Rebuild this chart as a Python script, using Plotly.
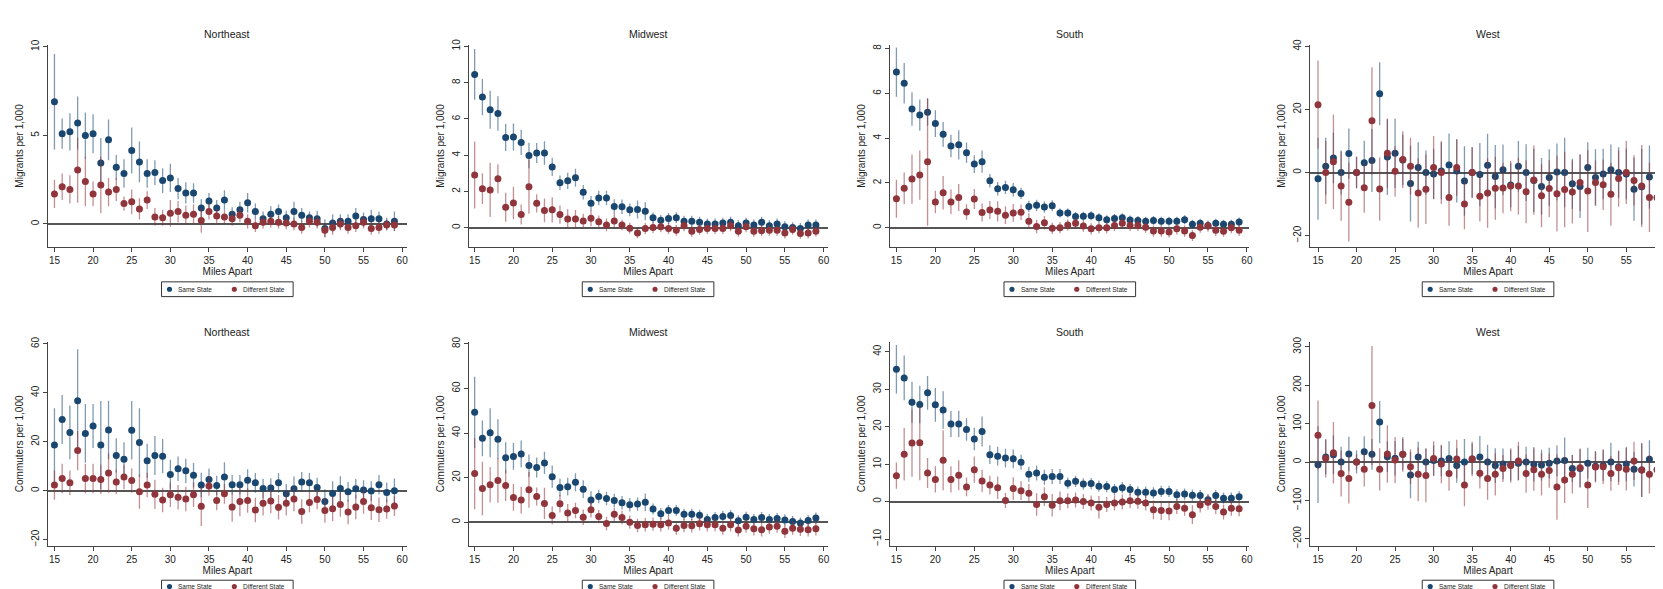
import plotly.graph_objects as go

# ---------------- data ----------------
MILES = list(range(15, 60))
X_TICKS = [15, 20, 25, 30, 35, 40, 45, 50, 55, 60]
REGIONS = ["Northeast", "Midwest", "South", "West"]
Y_LABELS = ["Migrants per 1,000", "Commuters per 1,000"]
SERIES = ["Same State", "Different State"]

# Migrants - Northeast
NE_MIG_SAME = [6.9, 5.1, 5.2, 5.7, 5.0, 5.1, 3.45, 4.75, 3.2, 2.85,
               4.15, 3.5, 2.85, 2.9, 2.45, 2.6, 2.0, 1.75, 1.75, 0.9,
               1.3, 0.9, 1.35, 0.55, 0.8, 1.2, 0.7, 0.3, 0.55, 0.7,
               0.35, 0.7, 0.5, 0.35, 0.3, -0.25, 0.05, 0.15, 0.15, 0.45,
               0.25, 0.3, 0.3, 0.0, 0.15]
NE_MIG_SAME_CI = [2.7, 0.85, 1.05, 1.5, 1.3, 1.1, 1.4, 1.15, 0.7, 0.8,
                  1.3, 1.15, 0.8, 0.7, 0.7, 0.8, 0.6, 0.6, 0.55, 0.5,
                  0.45, 0.45, 0.55, 0.4, 0.45, 0.55, 0.45, 0.4, 0.45, 0.4,
                  0.4, 0.55, 0.4, 0.35, 0.45, 0.5, 0.5, 0.4, 0.4, 0.45,
                  0.4, 0.5, 0.4, 0.35, 0.55]
NE_MIG_DIFF = [1.7, 2.1, 1.95, 3.05, 2.4, 1.7, 2.2, 1.8, 1.95, 1.15,
               1.25, 0.85, 1.35, 0.4, 0.35, 0.6, 0.7, 0.5, 0.55, 0.2,
               0.7, 0.45, 0.4, 0.3, 0.5, 0.15, -0.1, 0.1, 0.15, 0.1,
               0.05, 0.0, -0.2, 0.15, 0.1, -0.35, -0.2, 0.0, -0.2, -0.1,
               0.1, -0.25, -0.2, -0.05, -0.05]
NE_MIG_DIFF_CI = [0.8, 0.75, 0.8, 1.85, 1.4, 0.7, 1.6, 0.8, 0.65, 0.4,
                  0.7, 0.6, 0.5, 0.5, 0.45, 0.75, 0.6, 0.55, 0.55, 0.7,
                  0.45, 0.4, 0.4, 0.4, 0.4, 0.4, 0.35, 0.35, 0.35, 0.35,
                  0.35, 0.35, 0.35, 0.35, 0.35, 0.4, 0.4, 0.35, 0.35, 0.35,
                  0.35, 0.35, 0.35, 0.3, 0.35]

# Migrants - Midwest
MW_MIG_SAME = [8.45, 7.2, 6.5, 6.3, 4.97, 5.0, 4.7, 3.98, 4.12, 4.12,
               3.35, 2.47, 2.58, 2.75, 1.95, 1.35, 1.63, 1.63, 1.16, 1.15,
               0.98, 1.0, 0.9, 0.54, 0.4, 0.5, 0.55, 0.35, 0.35, 0.3,
               0.2, 0.2, 0.25, 0.3, 0.1, 0.25, 0.15, 0.3, 0.1, 0.2,
               0.05, 0.0, -0.05, 0.15, 0.15]
MW_MIG_SAME_CI = [1.4, 1.0, 1.05, 0.95, 0.75, 0.75, 0.7, 0.7, 0.55, 0.65,
                  0.5, 0.4, 0.45, 0.5, 0.4, 0.4, 0.4, 0.4, 0.4, 0.4,
                  0.35, 0.5, 0.5, 0.3, 0.3, 0.3, 0.3, 0.3, 0.3, 0.3,
                  0.3, 0.3, 0.3, 0.3, 0.3, 0.3, 0.3, 0.3, 0.3, 0.3,
                  0.3, 0.3, 0.3, 0.3, 0.3]
MW_MIG_DIFF = [2.9, 2.15, 2.08, 2.7, 1.12, 1.36, 0.72, 2.26, 1.34, 0.95,
               0.98, 0.72, 0.47, 0.47, 0.36, 0.52, 0.32, 0.15, 0.37, 0.14,
               -0.03, -0.29, -0.05, 0.0, 0.05, -0.05, -0.15, 0.1, -0.2, -0.1,
               -0.05, -0.05, -0.05, 0.1, -0.2, 0.05, -0.2, -0.17, -0.15, -0.15,
               -0.3, -0.1, -0.32, -0.3, -0.2]
MW_MIG_DIFF_CI = [1.85, 0.85, 1.5, 0.8, 0.8, 0.9, 0.55, 1.5, 0.5, 0.65,
                  0.7, 0.5, 0.55, 0.5, 0.4, 0.45, 0.35, 0.35, 0.4, 0.3,
                  0.3, 0.3, 0.3, 0.3, 0.3, 0.3, 0.3, 0.3, 0.3, 0.3,
                  0.3, 0.3, 0.3, 0.3, 0.3, 0.3, 0.3, 0.3, 0.3, 0.3,
                  0.3, 0.3, 0.3, 0.3, 0.3]

# Migrants - South
SO_MIG_SAME = [6.95, 6.45, 5.3, 5.03, 5.15, 4.65, 4.17, 3.65, 3.7, 3.35,
               2.84, 2.95, 2.1, 1.74, 1.8, 1.69, 1.53, 0.95, 1.0, 0.92,
               0.98, 0.66, 0.66, 0.5, 0.51, 0.53, 0.44, 0.35, 0.41, 0.44,
               0.34, 0.32, 0.29, 0.32, 0.29, 0.29, 0.29, 0.35, 0.15, 0.2,
               0.1, 0.2, 0.15, 0.15, 0.25]
SO_MIG_SAME_CI = [1.1, 0.9, 0.75, 0.7, 0.6, 0.6, 0.55, 0.5, 0.65, 0.45,
                  0.4, 0.5, 0.3, 0.3, 0.3, 0.3, 0.25, 0.25, 0.25, 0.25,
                  0.25, 0.2, 0.2, 0.2, 0.2, 0.2, 0.2, 0.2, 0.2, 0.2,
                  0.2, 0.2, 0.2, 0.2, 0.2, 0.2, 0.2, 0.2, 0.2, 0.2,
                  0.2, 0.2, 0.2, 0.2, 0.2]
SO_MIG_DIFF = [1.29, 1.76, 2.17, 2.35, 2.94, 1.15, 1.56, 1.15, 1.35, 0.7,
               1.28, 0.68, 0.79, 0.73, 0.56, 0.66, 0.69, 0.29, 0.05, 0.22,
               -0.03, 0.0, 0.12, 0.2, 0.07, -0.05, 0.0, 0.0, 0.1, 0.2,
               0.1, 0.1, 0.02, -0.15, -0.15, -0.19, -0.05, -0.15, -0.35, 0.02,
               0.07, -0.12, -0.16, 0.0, -0.12]
SO_MIG_DIFF_CI = [0.85, 0.7, 1.1, 1.1, 2.85, 0.5, 0.75, 0.55, 0.6, 0.35,
                  0.45, 0.4, 0.4, 0.45, 0.4, 0.4, 0.35, 0.35, 0.3, 0.3,
                  0.25, 0.25, 0.25, 0.25, 0.25, 0.25, 0.25, 0.25, 0.25, 0.25,
                  0.25, 0.25, 0.25, 0.25, 0.25, 0.25, 0.25, 0.25, 0.25, 0.25,
                  0.25, 0.25, 0.25, 0.25, 0.25]

# Migrants - West
WE_MIG_SAME = [-2, 2, 4.6, 0, 6, 0, 3.1, 3.8, 25, 4.9,
               6.1, 4, -3.5, 1.6, 0, -0.5, 0.5, 2.4, 0.5, -2.7,
               0, -0.6, 2.3, -1.3, 0.9, -4, 2.0, 0, -2.5, -4.4,
               -1.6, 0.2, 0, -3.6, -4.4, 1.6, -1.6, -0.5, 0.9, 0,
               -0.5, -5.3, -4.5, -1.4, -8]
WE_MIG_SAME_CI = [13, 9, 8, 7, 8, 5, 7, 10, 10, 12,
                  11, 8, 12, 8, 7, 8, 9, 10, 10, 11,
                  8, 10, 10, 10, 8, 7, 8, 9, 10, 9,
                  9, 9, 11, 8, 10, 8, 9, 8, 8, 8,
                  8, 10, 12, 10, 9]
WE_MIG_DIFF = [21.5, 0, 3.4, -4.3, -9.4, 0, -4.8, 16.4, -5.2, 6.1,
               0.4, 4.1, 2.0, -6.5, -5.3, 1.6, 0, -7.9, 1.6, -10.0,
               0, -7.5, -6.5, -5.0, -4.9, -4.3, -4.3, -6.1, -2.4, -7.4,
               -5.1, -6.7, -5.4, -6.2, -3.2, -5.9, -3.2, -3.9, -6.9, -1.9,
               0, -2.5, -4.3, -7.9, -7.9]
WE_MIG_DIFF_CI = [14, 10, 15, 11, 12.5, 5, 8, 17, 10, 11,
                  8, 9, 9, 11, 11, 10, 10, 9, 9, 8,
                  8, 8, 11, 10, 8, 8, 9, 10, 11, 10,
                  9, 12, 12, 10, 9, 13, 7, 8, 10, 9,
                  10, 8, 13, 11, 9]

# Commuters - Northeast
NE_COM_SAME = [18.7, 29.1, 23.8, 36.8, 23.4, 26.4, 18.7, 24.8, 14.4, 12.8,
               24.7, 19.7, 12.2, 14.4, 14.1, 6.6, 9.0, 8.1, 6.3, 2.3,
               4.6, 2.1, 5.6, 2.4, 2.4, 4.3, 3.2, 0.9, 1.1, 3.2,
               -1.3, 0.8, 3.6, 3.2, 1.3, -4.4, -1.1, 0.9, -0.4, 0.8,
               0.3, -0.1, 2.4, -0.7, 0]
NE_COM_SAME_CI = [15, 10, 11, 21, 12, 9, 18, 12, 7, 7,
                  12, 14, 7, 8, 7, 6, 5, 5, 5, 5,
                  4.5, 4, 6, 4, 4, 4.5, 4, 4, 4, 4,
                  4, 5, 4, 4, 4, 5, 5, 5, 4, 4,
                  4, 4, 4, 4, 5]
NE_COM_DIFF = [2.3, 5.0, 3.2, 16.4, 5.0, 5.0, 4.6, 7.2, 3.6, 5.6,
               4.2, -0.4, 2.3, -1.5, -3.8, -1.7, -2.7, -3.4, -1.7, -6.4,
               1.9, -4.0, -1.3, -6.7, -4.4, -4.0, -7.9, -5.1, -4.2, -6.8,
               -5.1, -3.4, -8.5, -4.8, -3.6, -8.1, -7.4, -5.6, -8.7, -6.7,
               -4.4, -7.0, -7.8, -7.5, -6.3]
NE_COM_DIFF_CI = [6, 6, 5, 8, 6, 6, 6, 8, 5, 5,
                  5, 7, 5, 6, 5, 5, 5, 5, 5, 8,
                  4, 4, 4, 6, 6, 5, 5, 5, 5, 5,
                  5, 5, 5, 4, 4, 5, 5, 5, 5, 5,
                  5, 5, 5, 4, 4]

# Commuters - Midwest
MW_COM_SAME = [49.3, 37.6, 40.1, 37.2, 28.9, 29.5, 30.6, 25.4, 24.5, 26.6,
               20.4, 15.5, 15.9, 17.9, 14.8, 9.9, 11.5, 10.6, 9.7, 8.7,
               7.8, 8.1, 8.9, 5.9, 3.8, 5.2, 5.2, 3.5, 3.5, 3.1,
               1.2, 2.1, 2.5, 3.0, 0.6, 2.2, 1.2, 2.1, 1.2, 1.6,
               1.0, 0.3, -0.4, 0.7, 1.8]
MW_COM_SAME_CI = [16, 8, 11, 9, 7, 6, 6, 5, 4.5, 5,
                  5, 4, 4, 4, 4, 4, 3, 3, 3, 3,
                  3, 3, 4, 2.5, 2.5, 2.5, 2.5, 2.5, 2.5, 2.5,
                  2.5, 2.5, 2.5, 2.5, 2.5, 2.5, 2.5, 2.5, 2.5, 2.5,
                  2.5, 2.5, 2.5, 2.5, 2.5]
MW_COM_DIFF = [21.8, 15.1, 16.8, 18.7, 16.5, 11.1, 9.9, 14.5, 11.5, 8.4,
               3.0, 8.3, 4.1, 5.2, 2.2, 5.6, 2.5, -0.6, 3.5, 2.1,
               0.0, -1.5, -1.2, -0.9, -1.2, -0.4, -2.7, -1.5, -1.6, -0.7,
               -1.2, -1.2, -2.7, -1.2, -3.5, -1.8, -3.0, -3.4, -2.2, -1.8,
               -4.1, -2.7, -3.2, -3.4, -3.0]
MW_COM_DIFF_CI = [16, 12, 8, 10, 7, 6, 6, 8, 4, 7,
                  4, 4, 4, 3.5, 3.5, 3.5, 3, 3, 3, 3,
                  3, 3, 3, 3, 3, 3, 3, 3, 3, 3,
                  3, 3, 3, 3, 3, 3, 3, 3, 3, 3,
                  3, 3, 3, 3, 3]

# Commuters - South
SO_COM_SAME = [35.3, 33.0, 26.5, 25.9, 29.0, 25.8, 24.4, 20.7, 20.7, 19.2,
               16.7, 18.7, 12.5, 12.1, 11.6, 11.4, 10.5, 7.3, 7.6, 6.5,
               6.7, 6.7, 4.9, 5.4, 4.7, 4.8, 4.1, 4.0, 3.2, 3.7,
               3.2, 2.5, 2.5, 2.3, 2.7, 2.7, 1.8, 2.0, 1.7, 1.6,
               0.5, 1.6, 0.9, 0.9, 1.3]
SO_COM_SAME_CI = [6.5, 6, 5.5, 5, 4.5, 4.5, 5, 3.5, 3.5, 3,
                  3, 4, 2.5, 2.5, 2.5, 2.5, 2, 2, 2, 2,
                  2, 2, 1.5, 1.5, 1.5, 1.5, 1.5, 1.5, 1.5, 1.5,
                  1.5, 1.5, 1.5, 1.5, 1.5, 1.5, 1.5, 1.5, 1.5, 1.5,
                  1.5, 1.5, 1.5, 1.5, 1.5]
SO_COM_DIFF = [6.9, 12.6, 15.6, 15.7, 7.6, 5.9, 11.0, 5.9, 7.0, 3.9,
               8.5, 5.5, 4.4, 3.7, 0.3, 3.5, 2.9, 2.2, -0.8, 1.3,
               -1.0, 0.2, 0.2, 0.4, 0.0, -0.4, -1.5, -0.8, -0.4, -0.1,
               0.2, 0.1, -0.4, -2.2, -2.4, -2.5, -1.3, -1.8, -3.5, -0.9,
               -0.2, -1.3, -2.8, -1.8, -1.9]
SO_COM_DIFF_CI = [3.5, 7, 9, 10, 4, 3.5, 8, 3.5, 4, 2.5,
                  3.5, 3, 2.5, 3, 2, 3, 2.5, 2.5, 3, 2.5,
                  3, 2.5, 2, 2, 2, 2, 3, 2, 2, 2,
                  2, 2, 2, 2.5, 2.5, 2.5, 2, 2, 2.5, 2,
                  2, 2, 2, 2, 2]

# Commuters - West
WE_COM_SAME = [-7, 13, 19, 0, 21, 0, 27, 20, 104, 14,
               10, 20, -34, 13, 0, 4, 3, 9, -9, 0,
               8, 13, 0, -9, -5, -8, -3, 0, -6, -8,
               -3, 3, 4, -17, -17, -3, -11, -9, 0, -12,
               -5, -19, -21, 7, -20]
WE_COM_SAME_CI = [100, 45, 50, 40, 45, 30, 40, 40, 55, 40,
                  45, 40, 60, 40, 35, 40, 40, 45, 45, 60,
                  40, 55, 45, 45, 40, 40, 45, 40, 45, 40,
                  40, 40, 60, 35, 50, 40, 40, 40, 50, 40,
                  45, 45, 70, 50, 45]
WE_COM_DIFF = [70, 10, 24, -30, -43, 0, -19, 147, -19, 21,
               5, 20, -12, -32, -35, 9, -5, -30, 8, -60,
               8, -29, -43, -32, -17, -9, 3, -30, -20, -32,
               -22, -65, -47, -32, -15, -60, -13, -12, -30, -15,
               -19, 3, -21, -32, -20]
WE_COM_DIFF_CI = [90, 50, 80, 60, 65, 20, 45, 155, 55, 75,
                  60, 45, 45, 70, 70, 45, 50, 45, 50, 55,
                  45, 40, 55, 55, 35, 45, 50, 50, 55, 55,
                  45, 85, 60, 50, 50, 60, 40, 45, 45, 45,
                  55, 50, 70, 50, 45]

Y_TICKS = [
    [0, 5, 10], [0, 2, 4, 6, 8, 10], [0, 2, 4, 6, 8], [-20, 0, 20, 40],
    [-20, 0, 20, 40, 60], [0, 20, 40, 60, 80], [-10, 0, 10, 20, 30, 40],
    [-200, -100, 0, 100, 200, 300],
]

PANEL_DATA = [
    (NE_MIG_SAME, NE_MIG_SAME_CI, NE_MIG_DIFF, NE_MIG_DIFF_CI),
    (MW_MIG_SAME, MW_MIG_SAME_CI, MW_MIG_DIFF, MW_MIG_DIFF_CI),
    (SO_MIG_SAME, SO_MIG_SAME_CI, SO_MIG_DIFF, SO_MIG_DIFF_CI),
    (WE_MIG_SAME, WE_MIG_SAME_CI, WE_MIG_DIFF, WE_MIG_DIFF_CI),
    (NE_COM_SAME, NE_COM_SAME_CI, NE_COM_DIFF, NE_COM_DIFF_CI),
    (MW_COM_SAME, MW_COM_SAME_CI, MW_COM_DIFF, MW_COM_DIFF_CI),
    (SO_COM_SAME, SO_COM_SAME_CI, SO_COM_DIFF, SO_COM_DIFF_CI),
    (WE_COM_SAME, WE_COM_SAME_CI, WE_COM_DIFF, WE_COM_DIFF_CI),
]

# ---------------- layout geometry / style ----------------
W, H = 1663, 589
COL_PX = [(40, 400), (462, 822), (885, 1245), (1306, 1663)]
ROW_PX = [(31, 237), (333, 540)]
TITLE_Y_PX = [20, 323]
LEGEND_BOX_PX = [(272, 287), (575, 588)]   # top/bottom of legend box per row
LEGEND_HALF_W = 66
LEGEND_ITEM_DX = [(-58, -51), (7, 14)]     # (dot centre, text start) offsets
X_RANGES = [[14.15, 60.6], [14.22, 60.5], [14.22, 60.3], [13.97, 60.15]]
Y_RANGES = [[-1.32, 10.13], [-1.09, 10.1], [-0.88, 8.18], [-23.75, 40.6],
            [-22.5, 60.8], [-10.6, 80.9], [-11.8, 42.6], [-218, 312.8]]

NAVY = "#1a476f"
MAROON = "#90353b"
NAVY_BAR = "rgba(26,71,111,0.55)"
MAROON_BAR = "rgba(144,53,59,0.55)"
TXT = "#222222"
FONT = "Arial, Liberation Sans, sans-serif"
SERIES_COLORS = [(NAVY, NAVY_BAR), (MAROON, MAROON_BAR)]


def px_x(v):
    return v / W


def px_y(v):
    return 1 - v / H


fig = go.Figure()
layout = dict(
    width=W, height=H, autosize=False,
    margin=dict(l=0, r=0, t=0, b=0),
    paper_bgcolor="white", plot_bgcolor="white",
    font=dict(family=FONT, color=TXT, size=10),
    showlegend=False,
    annotations=[], shapes=[],
)

for i, (same, same_ci, diff, diff_ci) in enumerate(PANEL_DATA):
    r, c = divmod(i, 4)
    n = "" if i == 0 else str(i + 1)
    x0, x1 = COL_PX[c]
    y0, y1 = ROW_PX[r]
    for (name, vals, ci), (col, bar) in zip(
        ((SERIES[0], same, same_ci), (SERIES[1], diff, diff_ci)), SERIES_COLORS
    ):
        fig.add_trace(go.Scatter(
            x=MILES, y=vals, mode="markers", name=name,
            marker=dict(color=col, size=7),
            error_y=dict(type="data", array=ci, color=bar, thickness=1.3, width=0),
            xaxis="x" + n, yaxis="y" + n,
        ))
    layout["xaxis" + n] = dict(
        domain=[px_x(x0), px_x(x1)], range=X_RANGES[c], anchor="y" + n,
        tickvals=X_TICKS, ticks="outside", ticklen=4, tickcolor="#444",
        showline=True, linecolor="#444", linewidth=1,
        showgrid=False, zeroline=False, ticklabeloverflow="allow",
        tickfont=dict(size=10, color=TXT),
        title=dict(text="Miles Apart", font=dict(size=10, color=TXT), standoff=0),
    )
    layout["yaxis" + n] = dict(
        domain=[px_y(y1), px_y(y0)], range=Y_RANGES[i], anchor="x" + n,
        tickvals=Y_TICKS[i], tickangle=-90, ticks="outside", ticklen=4,
        tickcolor="#444", showline=True, linecolor="#444", linewidth=1,
        showgrid=False, zeroline=True, zerolinecolor="#555", zerolinewidth=1.5,
        tickfont=dict(size=10, color=TXT),
        title=dict(text=Y_LABELS[r], font=dict(size=10, color=TXT), standoff=4),
    )
    cx = (x0 + x1) / 2
    layout["annotations"].append(dict(
        text=REGIONS[c], x=px_x(cx), y=px_y(TITLE_Y_PX[r]),
        xref="paper", yref="paper", xanchor="center", yanchor="middle",
        showarrow=False, font=dict(size=10.5, color=TXT),
    ))
    # legend box (drawn like the original per-panel Stata legend)
    lt, lb = LEGEND_BOX_PX[r]
    layout["shapes"].append(dict(
        type="rect", xref="paper", yref="paper",
        x0=px_x(cx - LEGEND_HALF_W), x1=px_x(cx + LEGEND_HALF_W),
        y0=px_y(lb), y1=px_y(lt),
        line=dict(color="#333", width=1), fillcolor="white", layer="above",
    ))
    ly = (lt + lb) / 2
    for (dot_dx, text_dx), name, (col, _) in zip(LEGEND_ITEM_DX, SERIES, SERIES_COLORS):
        layout["shapes"].append(dict(
            type="circle", xref="paper", yref="paper",
            x0=px_x(cx + dot_dx - 2.6), x1=px_x(cx + dot_dx + 2.6),
            y0=px_y(ly + 2.6), y1=px_y(ly - 2.6),
            fillcolor=col, line=dict(color=col, width=0), layer="above",
        ))
        layout["annotations"].append(dict(
            text=name, x=px_x(cx + text_dx), y=px_y(ly),
            xref="paper", yref="paper", xanchor="left", yanchor="middle",
            showarrow=False, font=dict(size=6.5, color=TXT),
        ))

fig.update_layout(**layout)
fig.write_html("out.html")
